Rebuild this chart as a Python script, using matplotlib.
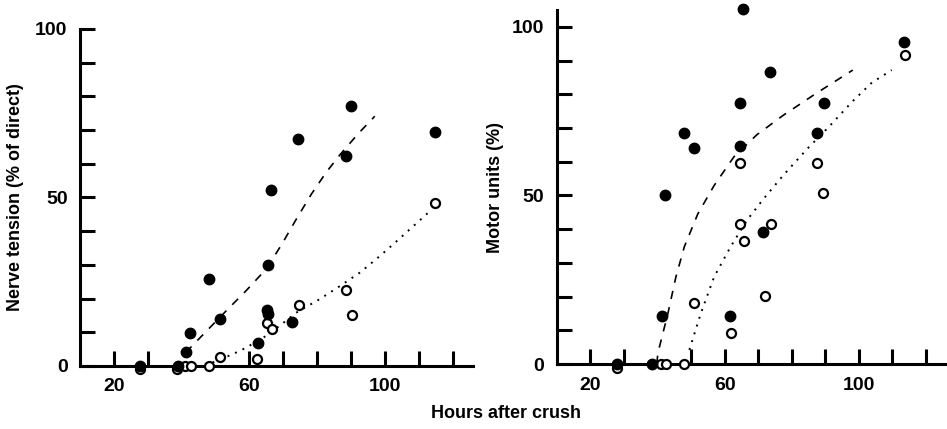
import matplotlib.pyplot as plt
from matplotlib.ticker import MultipleLocator, FixedLocator

plt.rcParams['font.family'] = ['Liberation Sans', 'DejaVu Sans']
plt.rcParams['font.weight'] = 'bold'
plt.rcParams['axes.labelweight'] = 'bold'

# Nerve tension panel (hours, % of direct)
tension_filled_x = [27.6, 38.9, 41.3, 42.5, 48.2, 51.3, 62.5, 65.4, 66.4, 65.2, 65.5, 72.6, 74.3, 88.6, 89.9, 114.8]
tension_filled_y = [0, 0, 4.0, 9.9, 25.9, 13.8, 6.9, 30.1, 52.1, 16.6, 15.3, 13.1, 67.2, 62.3, 77.1, 69.5]
tension_open_x = [27.6, 38.7, 40.9, 42.9, 48.0, 51.3, 62.2, 65.2, 66.7, 74.6, 88.4, 90.4, 114.8]
tension_open_y = [-1.0, -1.0, 0, 0, 0, 2.8, 2.2, 12.8, 10.9, 18.0, 22.5, 15.0, 48.4]
tension_dash_x = [41.2, 47.0, 53.1, 59.0, 64.9, 69.5, 73.8, 78.3, 82.7, 87.0, 92.0, 97.0]
tension_dash_y = [4.0, 10.0, 16.3, 22.3, 28.7, 36.0, 43.5, 51.0, 57.5, 63.0, 68.8, 74.1]
tension_dot_x = [49.1, 55.1, 59.0, 64.9, 68.9, 73.8, 80.7, 86.7, 92.6, 98.5, 104.0, 108.4, 112.8]
tension_dot_y = [1.0, 3.5, 5.4, 8.9, 11.9, 15.8, 19.8, 23.7, 27.7, 32.6, 37.5, 41.5, 45.5]

# Motor units panel (hours, %)
motor_filled_x = [27.9, 38.4, 41.2, 42.1, 47.8, 50.9, 61.7, 64.6, 64.7, 65.4, 71.5, 73.5, 87.4, 89.5, 113.5]
motor_filled_y = [0, 0, 14.2, 50.0, 68.4, 64.1, 14.2, 77.5, 64.7, 105.4, 39.2, 86.5, 68.6, 77.5, 95.6]
motor_open_x = [27.9, 40.9, 42.6, 47.8, 51.0, 61.8, 64.7, 64.7, 65.7, 71.9, 73.9, 87.5, 89.3, 113.7]
motor_open_y = [-1.3, 0, 0, 0, 18.2, 9.1, 59.7, 41.5, 36.5, 20.3, 41.5, 59.7, 50.6, 91.8]
motor_dash_x = [39.8, 40.1, 43.1, 45.5, 48.0, 52.0, 56.9, 62.8, 69.6, 77.5, 87.3, 98.2]
motor_dash_y = [0, 3.2, 15.0, 25.9, 34.8, 44.5, 53.0, 61.5, 68.0, 73.8, 80.3, 87.2]
motor_dot_x = [49.5, 52.9, 56.9, 61.8, 66.7, 71.6, 77.5, 84.4, 91.3, 98.0, 103.9, 109.8]
motor_dot_y = [4.2, 15.0, 25.9, 34.8, 42.7, 49.0, 56.0, 63.6, 70.6, 77.8, 83.5, 87.2]

x_major = [20, 60, 100]
tension_x_minor = [30, 70, 80, 90, 110, 120]
motor_x_minor = [30, 50, 70, 80, 90, 110, 120]
y_major = [0, 50, 100]

fig = plt.figure(figsize=(9.47, 4.29), dpi=100)
ax1 = fig.add_axes([0.0845, 0.147, 0.415, 0.7855])
ax2 = fig.add_axes([0.588, 0.1515, 0.411, 0.825])


def style(ax, ytop, x_minor):
    ax.set_xlim(10, 126)
    ax.set_ylim(0, ytop)
    for s in ['top', 'right']:
        ax.spines[s].set_visible(False)
    for s in ['left', 'bottom']:
        ax.spines[s].set_linewidth(2.2)
    ax.xaxis.set_major_locator(FixedLocator(x_major))
    ax.xaxis.set_minor_locator(FixedLocator(x_minor))
    ax.yaxis.set_major_locator(FixedLocator(y_major))
    ax.yaxis.set_minor_locator(MultipleLocator(10))
    ax.tick_params(which='both', direction='in', length=11, width=2.2)
    ax.tick_params(axis='x', which='major', pad=9, labelsize=14)
    ax.tick_params(axis='y', which='major', pad=9, labelsize=14)


def draw(ax, fx, fy, ox, oy, dx, dy, tx, ty):
    ax.plot(dx, dy, color='black', lw=1.2, ls=(0, (5, 5)))
    ax.plot(tx, ty, color='black', lw=1.4, ls=(0, (1, 3.2)))
    ax.plot(ox, oy, 'o', ms=6.5, mfc='white', mec='black', mew=1.6, ls='none', clip_on=False, zorder=4)
    ax.plot(fx, fy, 'o', ms=7.5, color='black', ls='none', clip_on=False, zorder=5)


style(ax1, 100, tension_x_minor)
draw(ax1, tension_filled_x, tension_filled_y, tension_open_x, tension_open_y,
     tension_dash_x, tension_dash_y, tension_dot_x, tension_dot_y)
ax1.set_ylabel('Nerve tension (% of direct)', fontsize=13, labelpad=8)

style(ax2, 105, motor_x_minor)
draw(ax2, motor_filled_x, motor_filled_y, motor_open_x, motor_open_y,
     motor_dash_x, motor_dash_y, motor_dot_x, motor_dot_y)
ax2.set_ylabel('Motor units (%)', fontsize=13, labelpad=6)

fig.text(0.534, 0.035, 'Hours after crush', ha='center', va='center', fontsize=13)

fig.savefig('out.png', dpi=100)
